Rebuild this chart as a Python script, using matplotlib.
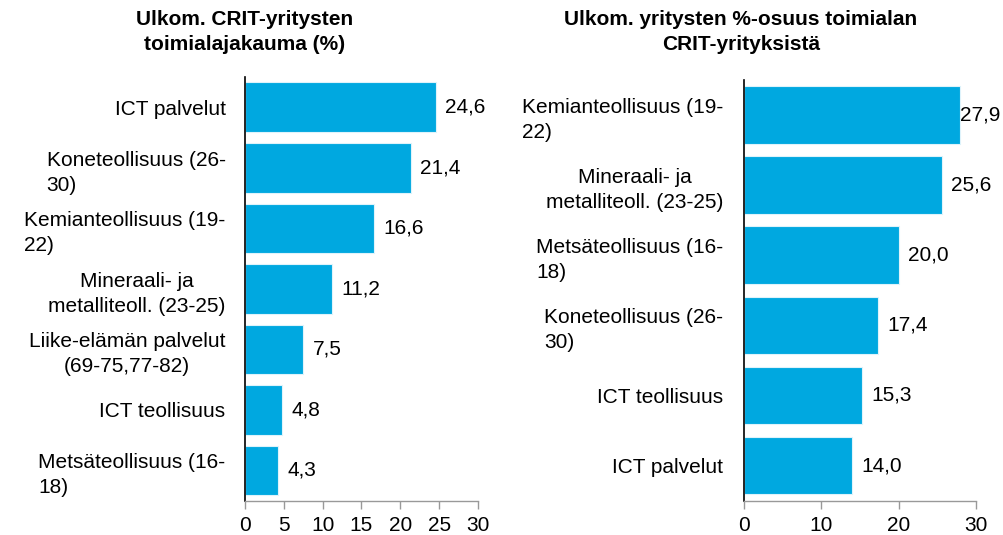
import matplotlib.pyplot as plt

plt.rcParams["font.family"] = ["Liberation Sans", "DejaVu Sans"]

BLUE = "#00A8E0"
FS = 15

# left panel: distribution of foreign CRIT firms by industry (%)
left_labels = ["ICT palvelut", "Koneteollisuus (26-\n30)", "Kemianteollisuus (19-\n22)",
               "Mineraali- ja\nmetalliteoll. (23-25)", "Liike-elämän palvelut\n(69-75,77-82)",
               "ICT teollisuus", "Metsäteollisuus (16-\n18)"]
left_values = [24.6, 21.4, 16.6, 11.2, 7.5, 4.8, 4.3]
left_ticks = [0, 5, 10, 15, 20, 25, 30]

# right panel: share of foreign firms among the industry's CRIT firms (%)
right_labels = ["Kemianteollisuus (19-\n22)", "Mineraali- ja\nmetalliteoll. (23-25)",
                "Metsäteollisuus (16-\n18)", "Koneteollisuus (26-\n30)",
                "ICT teollisuus", "ICT palvelut"]
right_values = [27.9, 25.6, 20.0, 17.4, 15.3, 14.0]
right_ticks = [0, 10, 20, 30]


def fmt(v):
    return f"{v:.1f}".replace(".", ",")


def panel(ax, labels, values, ticks, pad):
    n = len(values)
    ypos = list(range(n))
    ax.barh(ypos, values, height=0.82, color=BLUE, edgecolor="#dff3fb", linewidth=0.8)
    ax.set_ylim(n - 0.5, -0.5)
    ax.set_xlim(0, 30)
    ax.set_xticks(ticks)
    ax.set_yticks(ypos)
    ax.set_yticklabels(labels, fontsize=FS, linespacing=1.4)
    for lab in ax.get_yticklabels():
        txt = lab.get_text()
        lab.set_multialignment("left" if "-\n" in txt else "center")
    ax.tick_params(axis="y", length=0, pad=pad)
    ax.tick_params(axis="x", labelsize=FS, color="#999999", length=6, width=1, pad=5)
    for s in ("top", "right"):
        ax.spines[s].set_visible(False)
    ax.spines["left"].set_color("black")
    ax.spines["left"].set_linewidth(1.2)
    ax.spines["bottom"].set_color("#999999")
    ax.spines["bottom"].set_linewidth(1)
    for y, v in zip(ypos, values):
        # the longest bar's label is squeezed against the bar end, as in the source
        off = 0.1 if v > 27 else 1.2
        ax.text(v + off, y, fmt(v), va="center", ha="left", fontsize=FS)


fig = plt.figure(figsize=(10.04, 5.35), dpi=100)
ax1 = fig.add_axes([0.244, 0.064, 0.232, 0.792])
ax2 = fig.add_axes([0.741, 0.064, 0.231, 0.787])

panel(ax1, left_labels, left_values, left_ticks, pad=14)
panel(ax2, right_labels, right_values, right_ticks, pad=15)

fig.text(0.244, 0.982, "Ulkom. CRIT-yritysten\ntoimialajakauma (%)", ha="center", va="top",
         fontsize=FS, fontweight="bold", linespacing=1.45)
fig.text(0.738, 0.982, "Ulkom. yritysten %-osuus toimialan\nCRIT-yrityksistä", ha="center",
         va="top", fontsize=FS, fontweight="bold", linespacing=1.45)

fig.savefig("out.png", dpi=100)
